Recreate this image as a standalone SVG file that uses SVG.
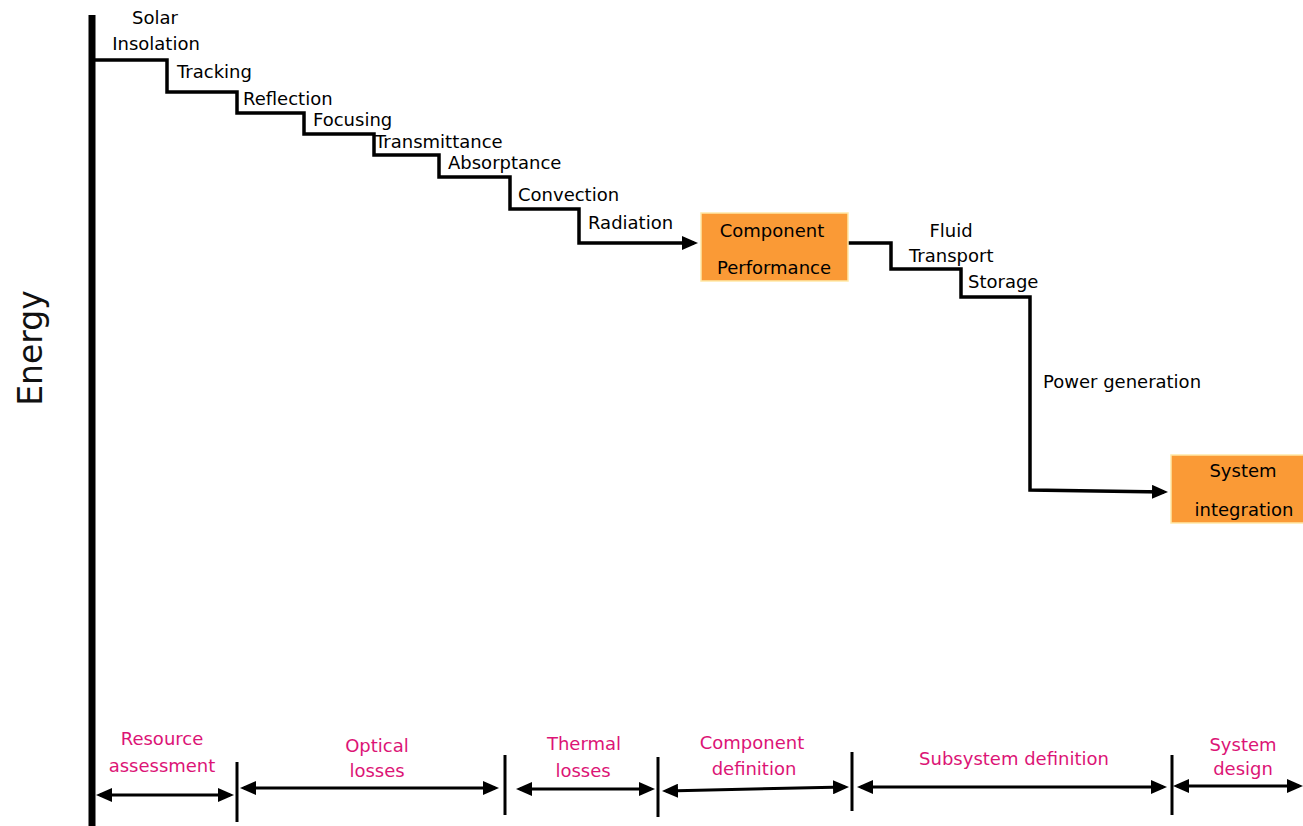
<svg xmlns="http://www.w3.org/2000/svg" width="1303" height="826" viewBox="0 0 1303 826">
<style>
.lbl{font-family:"DejaVu Sans",Verdana,sans-serif;font-size:18px;fill:#000}
.pk{font-family:"DejaVu Sans",Verdana,sans-serif;font-size:18px;fill:#DC1476;text-anchor:middle}
.box{fill:#FA9A36;stroke:#FFE9A8;stroke-width:1.5}
.bx{font-family:"DejaVu Sans",Verdana,sans-serif;font-size:18px;fill:#000;text-anchor:middle}
.stair{fill:none;stroke:#000;stroke-width:3.5;stroke-linejoin:miter}
.dim{fill:none;stroke:#000;stroke-width:3}
.div{stroke:#000;stroke-width:3}
</style>
<defs>
<marker id="ah" viewBox="0 0 16 14" refX="12" refY="7" markerWidth="16" markerHeight="14" markerUnits="userSpaceOnUse" orient="auto-start-reverse">
<path d="M0,0 L16,7 L0,14 z" fill="#000"/>
</marker>
</defs>
<rect width="1303" height="826" fill="#fff"/>
<g id="axis">
<line x1="92" y1="15" x2="92" y2="826" stroke="#000" stroke-width="7"/>
<text transform="translate(42,348) rotate(-90)" font-family="DejaVu Sans, Verdana, sans-serif" font-size="33" fill="#111" text-anchor="middle">Energy</text>
</g>
<g id="connectors">
<path class="stair" d="M95,60 H167 V92 H237 V113 H304 V134 H374 V155 H439 V177 H510 V209 H579 V243 H694" marker-end="url(#ah)"/>
<path class="stair" d="M848,243 H891 V269 H961 V297 H1030 V490 L1164,492" marker-end="url(#ah)"/>
<line class="div" x1="237" y1="762" x2="237" y2="822"/>
<line class="div" x1="505" y1="755" x2="505" y2="815"/>
<line class="div" x1="658" y1="757" x2="658" y2="817"/>
<line class="div" x1="852" y1="752" x2="852" y2="811"/>
<line class="div" x1="1172" y1="755" x2="1172" y2="815"/>
<line class="dim" x1="100" y1="795" x2="230" y2="795" marker-start="url(#ah)" marker-end="url(#ah)"/>
<line class="dim" x1="244" y1="788" x2="495" y2="788" marker-start="url(#ah)" marker-end="url(#ah)"/>
<line class="dim" x1="520" y1="789" x2="651" y2="789" marker-start="url(#ah)" marker-end="url(#ah)"/>
<line class="dim" x1="666" y1="791" x2="845" y2="787" marker-start="url(#ah)" marker-end="url(#ah)"/>
<line class="dim" x1="861" y1="787" x2="1163" y2="787" marker-start="url(#ah)" marker-end="url(#ah)"/>
<line class="dim" x1="1177" y1="786" x2="1299" y2="786" marker-start="url(#ah)" marker-end="url(#ah)"/>
</g>
<g id="step-labels">
<text class="lbl" x="155" y="24" text-anchor="middle">Solar</text>
<text class="lbl" x="156" y="50" text-anchor="middle">Insolation</text>
<text class="lbl" x="177" y="78">Tracking</text>
<text class="lbl" x="243" y="105">Reflection</text>
<text class="lbl" x="313" y="126">Focusing</text>
<text class="lbl" x="375" y="148">Transmittance</text>
<text class="lbl" x="448" y="169">Absorptance</text>
<text class="lbl" x="518" y="201">Convection</text>
<text class="lbl" x="588" y="229">Radiation</text>
<text class="lbl" x="951" y="237" text-anchor="middle">Fluid</text>
<text class="lbl" x="909" y="262">Transport</text>
<text class="lbl" x="968" y="288">Storage</text>
<text class="lbl" x="1043" y="388">Power generation</text>
</g>
<g id="component-performance">
<rect class="box" x="701" y="213" width="147" height="68"/>
<text class="bx" x="772" y="237">Component</text>
<text class="bx" x="774" y="274">Performance</text>
</g>
<g id="system-integration">
<rect class="box" x="1171" y="455" width="140" height="68"/>
<text class="bx" x="1243" y="477">System</text>
<text class="bx" x="1244" y="516">integration</text>
</g>
<g id="phase-labels">
<text class="pk" x="162" y="745">Resource</text>
<text class="pk" x="162" y="772">assessment</text>
<text class="pk" x="377" y="752">Optical</text>
<text class="pk" x="377" y="777">losses</text>
<text class="pk" x="584" y="750">Thermal</text>
<text class="pk" x="583" y="777">losses</text>
<text class="pk" x="752" y="749">Component</text>
<text class="pk" x="754" y="775">definition</text>
<text class="pk" x="1014" y="765">Subsystem definition</text>
<text class="pk" x="1243" y="751">System</text>
<text class="pk" x="1243" y="775">design</text>
</g>
</svg>
